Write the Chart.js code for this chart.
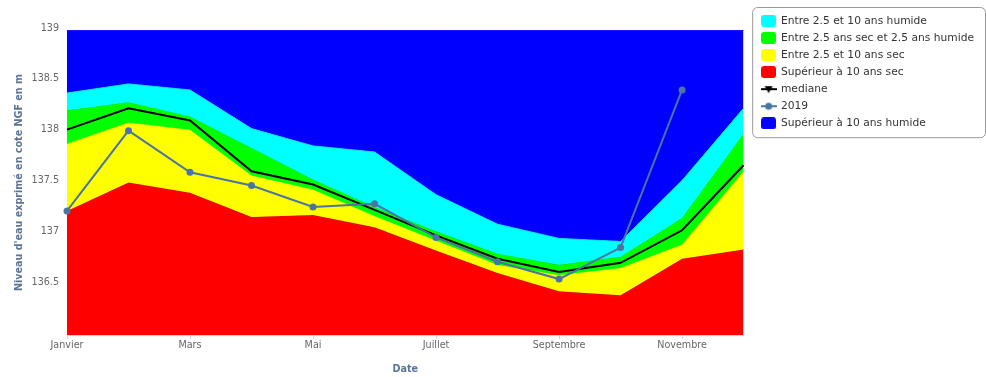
<!DOCTYPE html>
<html>
  <head>
    <meta charset="utf-8">
    <title>Niveau d'eau</title>
    <script src="https://cdn.jsdelivr.net/npm/chart.js@4.4.0/dist/chart.umd.min.js"></script>
    <style>
      html, body { margin: 0; padding: 0; background: #fff; }
      #wrap { position: relative; width: 986px; height: 377px; }
    </style>
  </head>
  <body>
    <div id="wrap"><canvas id="chart1"></canvas></div>
    <script>
      var months = ['Janvier','Février','Mars','Avril','Mai','Juin','Juillet','Août','Septembre','Octobre','Novembre','Décembre'];

      // upper limit of each band (m NGF)
      var sec10     = [137.22,137.50,137.40,137.16,137.18,137.06,136.83,136.61,136.43,136.39,136.75,136.84];
      var sec25     = [137.88,138.09,138.02,137.57,137.43,137.17,136.93,136.69,136.59,136.66,136.89,137.61];
      var normal    = [138.21,138.29,138.15,137.84,137.53,137.26,137.02,136.80,136.69,136.77,137.15,137.98];
      var humide25  = [138.38,138.47,138.41,138.03,137.86,137.80,137.38,137.09,136.95,136.92,137.52,138.23];
      var humide10  = [139,139,139,139,139,139,139,139,139,139,139,139];
      var mediane   = [138.02,138.23,138.11,137.61,137.48,137.23,136.98,136.75,136.62,136.71,137.03,137.67];
      var annee2019 = [137.22,138.01,137.60,137.47,137.26,137.29,136.96,136.72,136.55,136.86,138.41,null];

      var yTicks = [136.5,137,137.5,138,138.5,139];

      var FONT = 'DejaVu Sans';
      var COL2019 = '#4a74a5';

      function boxImg(color){
        var c = document.createElement('canvas');
        c.width = 15; c.height = 12;
        var g = c.getContext('2d');
        g.fillStyle = color;
        g.beginPath(); g.roundRect(0, 0, 15, 12, 3); g.fill();
        return c;
      }
      function lineImg(color, tri){
        var c = document.createElement('canvas');
        c.width = 16; c.height = 10;
        var g = c.getContext('2d');
        g.strokeStyle = color; g.fillStyle = color; g.lineWidth = 2;
        g.beginPath(); g.moveTo(0, 5); g.lineTo(16, 5); g.stroke();
        g.beginPath();
        if(tri){ g.moveTo(4, 2); g.lineTo(12, 2); g.lineTo(8, 9); g.closePath(); }
        else { g.arc(8, 5, 3.5, 0, Math.PI*2); }
        g.fill();
        return c;
      }

      // drawing order: last dataset is painted first
      var markers = [lineImg(COL2019, false), lineImg('#000', true), boxImg('#00ffff'), boxImg('#00ff00'), boxImg('#ffff00'), boxImg('#ff0000'), boxImg('#0000ff')];
      var legendRank = [5, 4, 0, 1, 2, 3, 6];

      var legendBorder = {
        id: 'legendBorder',
        afterDraw: function(chart){
          var lg = chart.legend, hb = lg.legendHitBoxes;
          if(!hb || !hb.length) return;
          var last = hb[hb.length-1];
          var x0 = lg.left - 2.5, y0 = lg.top - 1.5;
          var x1 = 985.5, y1 = last.top + last.height + 9;
          var ctx = chart.ctx;
          ctx.save();
          ctx.strokeStyle = '#999'; ctx.lineWidth = 1;
          ctx.beginPath(); ctx.roundRect(x0, y0, x1 - x0, y1 - y0, 5); ctx.stroke();
          ctx.restore();
        }
      };

      function area(label, data, bg, border, fill){
        return {label: label, data: data, backgroundColor: bg, borderColor: border, borderWidth: 1,
                pointRadius: 0, pointHoverRadius: 0, fill: fill, tension: 0};
      }

      var datasets = [
        {label: '2019', data: annee2019, borderColor: COL2019, backgroundColor: COL2019, borderWidth: 2,
         pointRadius: 3.5, pointBackgroundColor: COL2019, pointBorderWidth: 0, fill: false, tension: 0},
        {label: 'mediane', data: mediane, borderColor: '#000', backgroundColor: '#000', borderWidth: 2,
         pointRadius: 0, fill: false, tension: 0},
        area('Entre 2.5 et 10 ans humide', humide25, '#00ffff', '#00e0e0', 3),
        area('Entre 2.5 ans sec et 2.5 ans humide', normal, '#00ff00', '#00dd00', 4),
        area('Entre 2.5 et 10 ans sec', sec25, '#ffff00', '#e0e000', 5),
        area('Supérieur à 10 ans sec', sec10, '#ff0000', '#e00000', 'start'),
        area('Supérieur à 10 ans humide', humide10, '#0000ff', '#3030ff', 2)
      ];

      new Chart(document.getElementById('chart1'), {
        type: 'line',
        data: {labels: months, datasets: datasets},
        plugins: [legendBorder],
        options: {
          responsive: true,
          maintainAspectRatio: false,
          animation: false,
          layout: {padding: {left: 8, top: 9, right: 2, bottom: 0}},
          plugins: {
            tooltip: {enabled: false},
            title: {display: true, text: ' ', fullSize: false, font: {size: 10}, padding: {top: 0, bottom: 9}},
            legend: {
              position: 'right',
              align: 'start',
              maxWidth: 240,
              labels: {
                usePointStyle: true,
                pointStyleWidth: 14,
                padding: 6.4,
                color: '#333',
                font: {family: FONT, size: 10.7},
                generateLabels: function(chart){
                  var items = Chart.defaults.plugins.legend.labels.generateLabels(chart);
                  items.forEach(function(it){ it.pointStyle = markers[it.datasetIndex]; });
                  return items;
                },
                sort: function(a, b){ return legendRank[a.datasetIndex] - legendRank[b.datasetIndex]; }
              }
            }
          },
          scales: {
            x: {
              offset: false,
              border: {color: '#ccd6eb'},
              grid: {drawOnChartArea: false, tickLength: 4,
                     color: function(c){ return c.index % 2 ? 'rgba(0,0,0,0)' : '#ccd6eb'; }},
              ticks: {autoSkip: false, maxRotation: 0, padding: 1, color: '#666',
                      font: {family: FONT, size: 9.6},
                      callback: function(v, i){ return i % 2 ? '' : months[i]; }},
              title: {display: true, text: 'Date', color: '#5a7497',
                      font: {family: FONT, size: 9.6, weight: 'bold'}, padding: {top: 11.7, bottom: 2}},
              afterFit: function(s){ s.height = 42; }
            },
            y: {
              min: 136, max: 139,
              border: {color: '#ccd6eb'},
              grid: {display: false, drawTicks: false},
              afterBuildTicks: function(s){ s.ticks = yTicks.map(function(v){ return {value: v}; }); },
              ticks: {padding: 8, color: '#666', labelOffset: -2,
                      font: {family: FONT, size: 9.6},
                      callback: function(v){ return String(v); }},
              title: {display: true, text: "Niveau d'eau exprimé en cote NGF en m", color: '#5a7497',
                      font: {family: FONT, size: 9.6, weight: 'bold'}, padding: {top: 6.2, bottom: 5.8}},
              afterFit: function(s){ s.width = 59; }
            },
            y2: {
              position: 'right', min: 0, max: 1,
              grid: {display: false, drawTicks: false}, border: {display: false},
              ticks: {display: false},
              afterFit: function(s){ s.width = 11.6; }
            }
          }
        }
      });
    </script>
  </body>
</html>
